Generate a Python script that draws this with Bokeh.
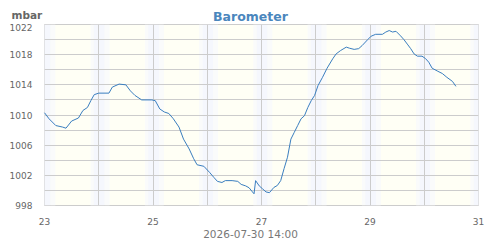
from bokeh.plotting import figure
from bokeh.models import Range1d, FixedTicker, Label
from bokeh.layouts import column
from bokeh.embed import file_html
from bokeh.resources import INLINE

# ---- data ----
start_day = 23
hours = [0, 2, 5, 8, 9.5, 12, 15, 17, 19, 20.5, 22, 24, 28.5, 30, 33, 36, 38, 40, 43, 47.5,
         49, 51, 53, 55, 57, 59.5, 61.5, 64, 66, 67.5, 70.5, 73, 75, 76.5, 78.5, 80, 83, 85.5,
         87, 89, 90.5, 92, 92.7, 93.4, 95, 96.5, 98, 99.5, 101.5, 103, 104.5, 106, 107.5, 109,
         110.5, 112, 113.5, 115, 116.5, 118, 119.5, 121, 123, 125, 127.5, 129, 131, 133.5, 135,
         137, 139, 140.5, 143, 144.5, 146.5, 149.5, 151, 152.5, 154, 155.5, 157.5, 159, 160.5,
         162, 163.5, 165, 167, 168.5, 170, 171.5, 174, 176, 178, 180.5, 182]
pressure = [1010.3, 1009.5, 1008.6, 1008.4, 1008.25, 1009.2, 1009.6, 1010.6, 1011.0, 1011.9,
            1012.7, 1012.9, 1012.9, 1013.7, 1014.1, 1014.0, 1013.2, 1012.6, 1012.0, 1012.0,
            1011.9, 1010.8, 1010.4, 1010.2, 1009.5, 1008.4, 1006.8, 1005.5, 1004.2, 1003.4,
            1003.2, 1002.4, 1001.7, 1001.2, 1001.05, 1001.3, 1001.3, 1001.2, 1000.8, 1000.6,
            1000.35, 999.8, 999.55, 1001.3, 1000.6, 1000.2, 999.8, 999.7, 1000.4, 1000.65,
            1001.3, 1002.9, 1004.4, 1006.8, 1007.7, 1008.6, 1009.5, 1009.9, 1011.0, 1011.9,
            1012.6, 1013.9, 1015.0, 1016.2, 1017.45, 1018.1, 1018.55, 1019.0, 1018.85, 1018.7,
            1018.8, 1019.2, 1020.0, 1020.45, 1020.7, 1020.7, 1021.0, 1021.2, 1021.0, 1021.1,
            1020.5, 1020.0, 1019.4, 1018.8, 1018.1, 1017.8, 1017.8, 1017.5, 1017.0, 1016.2,
            1015.8, 1015.5, 1015.0, 1014.45, 1013.8]
day_ticks = [23, 25, 27, 29, 31]
day_grid = [23, 24, 25, 26, 27, 28, 29, 30, 31]
y_ticks = [998, 1002, 1006, 1010, 1014, 1018, 1022]
y_grid = [998, 1000, 1002, 1004, 1006, 1008, 1010, 1012, 1014, 1016, 1018, 1020, 1022]
title_text = "Barometer"
unit_text = "mbar"
time_text = "2026-07-30 14:00"

x = [start_day + h / 24.0 for h in hours]


def strip(h):
    f = figure(width=500, height=h, output_backend="svg", toolbar_location=None,
               x_axis_location=None, y_axis_location=None,
               x_range=Range1d(0, 500), y_range=Range1d(0, h),
               min_border=0, min_border_left=0, min_border_right=0,
               min_border_top=0, min_border_bottom=0)
    f.outline_line_color = None
    f.xgrid.visible = False
    f.ygrid.visible = False
    f.background_fill_color = "white"
    f.border_fill_color = "white"
    if "frame_align" in f.properties():
        f.frame_align = False
    return f


# ---- header strip (title + unit) ----
head = strip(23)
head.add_layout(Label(x=250, y=16, x_units="canvas", y_units="canvas", text=title_text,
                      text_font="DejaVu Sans", text_font_style="bold", text_font_size="12.5px",
                      text_color="#4a86bd", text_align="center", text_baseline="alphabetic"))
head.add_layout(Label(x=11, y=9, text=unit_text,
                      text_font="DejaVu Sans", text_font_style="bold", text_font_size="10.5px",
                      text_color="#666666", text_align="left", text_baseline="alphabetic"))

# ---- main chart ----
p = figure(width=500, height=204, output_backend="svg", toolbar_location=None,
           x_range=Range1d(23, 31), y_range=Range1d(998, 1022),
           min_border_left=44, min_border_right=22, min_border_top=1, min_border_bottom=22)
if "frame_align" in p.properties():
    p.frame_align = False

p.background_fill_color = "#fffff5"
p.border_fill_color = "white"
p.outline_line_color = "#cccccc"

tw_l, tw_r, ng_l, ng_r = [], [], [], []
for d in day_grid:
    tw_l += [d - 0.15, d + 0.11]
    tw_r += [d - 0.09, d + 0.20]
    ng_l.append(d - 0.09)
    ng_r.append(d + 0.11)
q1 = p.quad(left=tw_l, right=tw_r, bottom=998, top=1022, fill_color="#fafbfb", line_color=None)
q2 = p.quad(left=ng_l, right=ng_r, bottom=998, top=1022, fill_color="#f5f7fd", line_color=None)
q1.level = "underlay"
q2.level = "underlay"

ln = p.line(x, pressure, line_color="#3a7ebf", line_width=1)
ln.level = "overlay"

p.xgrid.ticker = FixedTicker(ticks=day_grid)
p.ygrid.ticker = FixedTicker(ticks=y_grid)
for g in (p.xgrid, p.ygrid):
    g.grid_line_color = "#cccccc"
    g.grid_line_width = 1
    g.level = "glyph"

p.xaxis.ticker = FixedTicker(ticks=day_ticks)
p.yaxis.ticker = FixedTicker(ticks=y_ticks)
for ax in (p.xaxis, p.yaxis):
    ax.axis_line_color = None
    ax.major_tick_line_color = None
    ax.minor_tick_line_color = None
    ax.major_label_text_color = "#666666"
    ax.major_label_text_font = "DejaVu Sans"
    ax.major_label_text_font_size = "9px"
    ax.major_label_standoff = 6

# ---- footer strip (time stamp) ----
foot = strip(13)
foot.add_layout(Label(x=250, y=6, x_units="canvas", y_units="canvas", text=time_text,
                      text_font="DejaVu Sans", text_font_size="10.5px",
                      text_color="#777777", text_align="center", text_baseline="middle"))

layout = column(head, p, foot, spacing=0)
open("out.html", "w").write(file_html(layout, INLINE))
